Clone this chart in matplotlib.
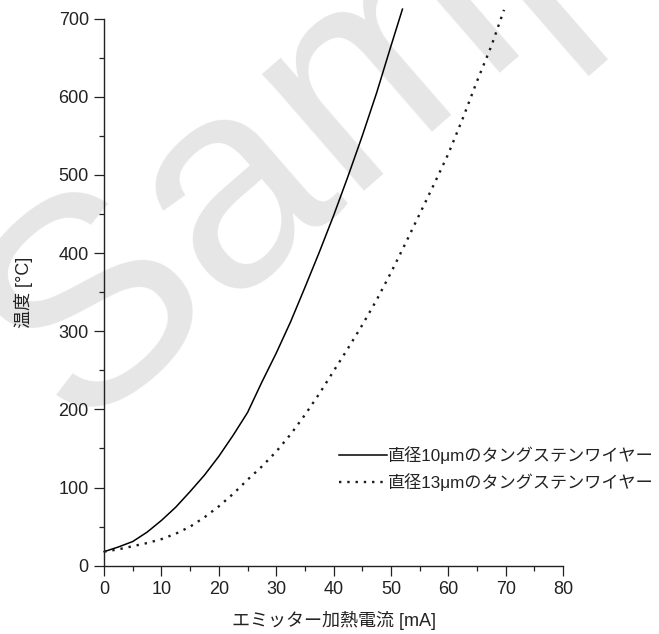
import numpy as np
import matplotlib.pyplot as plt
from matplotlib.ticker import MultipleLocator

plt.rcParams['font.family'] = ['Liberation Sans', 'Noto Sans CJK JP', 'DejaVu Sans']

# current [mA] vs temperature [C]
I_10 = [0, 2.5, 5, 7.5, 10, 12.5, 15, 17.5, 20, 22.5, 25, 27.5, 30, 32.5, 35,
        37.5, 40, 42.5, 45, 47.5, 50, 52]
T_10 = [18, 24, 31, 43, 58, 75, 95, 116, 140, 167, 196, 235, 272, 312, 356,
        401, 448, 498, 550, 605, 665, 712]
I_13 = [0, 2.5, 5, 7.5, 10, 12.5, 15, 17.5, 20, 22.5, 25, 27.5, 30, 32.5, 35,
        37.5, 40, 42.5, 45, 47.5, 50, 52.5, 55, 57.5, 60, 62.5, 65, 67.5, 69.7]
T_13 = [18, 21, 25, 29, 34, 41, 50, 62, 76, 92, 110, 127, 146, 168, 193,
        220, 249, 278, 308, 340, 375, 412, 450, 488, 527, 572, 620, 665, 711]

lab_10 = '直径10μmのタングステンワイヤー'
lab_13 = '直径13μmのタングステンワイヤー'

fig = plt.figure(figsize=(6.59, 6.34), dpi=100)
ax = fig.add_axes([0.158, 0.1077, 0.6965, 0.8631])
ax.set_zorder(2)
ax.patch.set_visible(False)

# watermark
fig.text(0.685, 0.837, 'Sample', fontsize=212, color='#e6e6e6', rotation=41,
         ha='center', va='baseline', rotation_mode='anchor', zorder=0)

ax.plot(I_10, T_10, color='black', lw=1.1, clip_on=False, label=lab_10)
ax.plot(I_13, T_13, color='#1a1a1a', lw=1.7, ls=(0, (1, 2.5)), clip_on=False, label=lab_13)

ax.set_xlim(0, 80)
ax.set_ylim(0, 700)
ax.xaxis.set_major_locator(MultipleLocator(10))
ax.xaxis.set_minor_locator(MultipleLocator(5))
ax.yaxis.set_major_locator(MultipleLocator(100))
ax.yaxis.set_minor_locator(MultipleLocator(50))

for s in ['top', 'right']:
    ax.spines[s].set_visible(False)
for s in ['left', 'bottom']:
    ax.spines[s].set_linewidth(1.0)
    ax.spines[s].set_color('#222222')

ax.tick_params(which='major', length=7, width=0.9, labelsize=13, pad=4, colors='#222222')
ax.tick_params(which='minor', length=3.5, width=0.9, colors='#222222')

ax.set_xlabel('エミッター加熱電流 [mA]', fontsize=13, labelpad=9, color='#222222')
ax.set_ylabel('温度 [°C]', fontsize=13, labelpad=18, color='#222222')

ax.legend(loc='upper left', bbox_to_anchor=(0.514, 0.2965), bbox_transform=fig.transFigure,
          frameon=False, fontsize=12.3, handlelength=2.8, handletextpad=0.1,
          borderpad=0, borderaxespad=0, labelspacing=0.55, labelcolor='#222222')

plt.savefig('out.png', dpi=100)
